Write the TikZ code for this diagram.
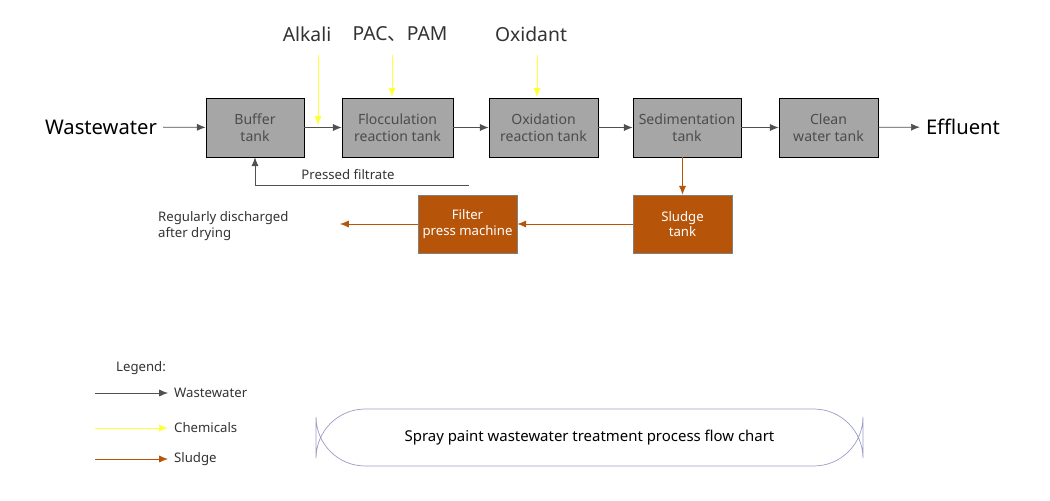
\documentclass[tikz,border=0pt]{standalone}
\usepackage{fontspec}
\setmainfont{Noto Sans}
\newfontfamily\cjk{Noto Sans CJK SC}
\usetikzlibrary{arrows.meta}
\definecolor{tankgray}{RGB}{166,166,166}
\definecolor{sludgebrown}{RGB}{182,84,10}
\definecolor{linegray}{RGB}{80,80,80}
\definecolor{chemyellow}{RGB}{255,255,60}
\tikzstyle{tank} = [draw, fill=tankgray, rectangle, minimum height=1.18cm,
text=black!70, align=center, font=\fontsize{8}{9.5}\selectfont, inner sep=1pt]
\tikzstyle{sludge} = [draw=gray, fill=sludgebrown, rectangle, minimum height=1.16cm,
minimum width=1.98cm, text=white, align=center, font=\fontsize{7.5}{9}\selectfont, inner sep=1pt]
\tikzstyle{water} = [draw=linegray, -{Latex[length=5pt,width=4pt]}]
\tikzstyle{chem} = [draw=chemyellow, -{Latex[length=5pt,width=4pt]}]
\tikzstyle{mud} = [draw=sludgebrown, -{Latex[length=5pt,width=4pt]}]
\tikzstyle{big} = [font=\fontsize{11.5}{13}\selectfont]
\tikzstyle{small} = [font=\fontsize{7.5}{9.5}\selectfont, text=black!80]

\begin{document}
\begin{tikzpicture}[x=0.02cm,y=-0.02cm]
\useasboundingbox (0,0) rectangle (1050,500);

\node [big] (inlet) at (101,127) {Wastewater};
\node [big] (outlet) at (963,127) {Effluent};
\node [tank, minimum width=1.96cm] (buffer) at (255,127.5) {Buffer\\tank};
\node [tank, minimum width=2.22cm] (floc) at (397.5,127.5) {Flocculation\\reaction tank};
\node [tank, minimum width=2.18cm] (oxid) at (543.5,127.5) {Oxidation\\reaction tank};
\node [tank, minimum width=2.16cm] (sedi) at (687,127.5) {Sedimentation\\tank};
\node [tank, minimum width=1.98cm] (clean) at (828.5,127.5) {Clean\\water tank};
\node [sludge] (mudtank) at (682.5,224) {Sludge\\tank};
\node [sludge] (press) at (467.5,224) {Filter\\press machine};
\node [small, align=left, anchor=west] (dry) at (152,226) {Regularly discharged\\after drying};

\node [font=\fontsize{11}{13}\selectfont, text=black!80] (alkali) at (307,34) {Alkali};
\node [font=\fontsize{11}{13}\selectfont, text=black!80] (pac) at (400,34) {PAC{\cjk 、}PAM};
\node [font=\fontsize{11}{13}\selectfont, text=black!80] (oxidant) at (531,34) {Oxidant};

\draw [water] (inlet) -- (buffer);
\draw [water] (buffer) -- (floc);
\draw [water] (floc) -- (oxid);
\draw [water] (oxid) -- (sedi);
\draw [water] (sedi) -- (clean);
\draw [water] (clean) -- (outlet);

\coordinate (a1) at (318,55);
\coordinate (a2) at (318,125);
\draw [chem] (a1) -- (a2);
\draw [chem] (392,55) -- (392,97);
\draw [chem] (537,55) -- (537,97);

\coordinate (back) at (469,185);
\draw [water] (back) -- (255,185) -- (buffer.south);
\node [small] (filt) at (348,175) {Pressed filtrate};

\draw [mud] (sedi.south -| mudtank) -- (mudtank);
\draw [mud] (mudtank) -- (press);
\coordinate (out) at (340,224);
\draw [mud] (press) -- (out);

% legend
\node [small, anchor=west] (leg) at (110,368) {Legend:};
\foreach \yy/\col/\txt in {393/water/Wastewater, 428/chem/Chemicals, 459/mud/Sludge}{
  \coordinate (l\yy) at (95,\yy);
  \coordinate (r\yy) at (168,\yy);
  \draw [\col] (l\yy) -- (r\yy);
  \node [small, anchor=west] at (r\yy) {\txt};
}

\node [draw=blue!30!gray!60, rounded corners=28, minimum width=10.94cm, minimum height=1.14cm,
  font=\fontsize{8.5}{10}\selectfont] (title) at (589.5,437.5) {Spray paint wastewater treatment process flow chart};
\end{tikzpicture}
\end{document}
